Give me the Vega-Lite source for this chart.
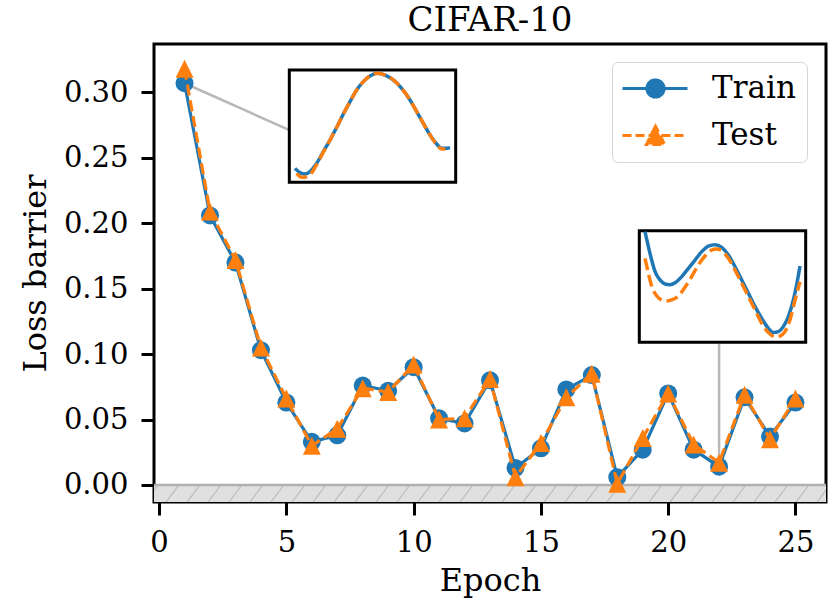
{
  "$schema": "https://vega.github.io/schema/vega-lite/v6.json",
  "width": 672,
  "height": 458,
  "autosize": {"type": "none"},
  "padding": {"left": 154, "top": 44, "right": 8, "bottom": 99},
  "background": "white",
  "title": {"text": "CIFAR-10", "font": "DejaVu Serif", "fontSize": 34, "fontWeight": "normal", "color": "black", "baseline": "alphabetic", "offset": 9, "dy": 30, "anchor": "middle"},
  "config": {
    "view": {"stroke": "black", "strokeWidth": 3},
    "axis": {"grid": false, "domain": false, "ticks": true, "tickColor": "black", "tickWidth": 3, "tickSize": 13, "labelFont": "DejaVu Serif", "labelFontSize": 29, "labelColor": "black", "labelPadding": 13, "titleFont": "DejaVu Serif", "titleFontSize": 32, "titleFontWeight": "normal", "titleColor": "black"}
  },
  "datasets": {
    "main": [
      {"epoch": 1, "series": "Train", "loss": 0.307}, {"epoch": 2, "series": "Train", "loss": 0.206}, {"epoch": 3, "series": "Train", "loss": 0.170}, {"epoch": 4, "series": "Train", "loss": 0.103}, {"epoch": 5, "series": "Train", "loss": 0.063},
      {"epoch": 6, "series": "Train", "loss": 0.033}, {"epoch": 7, "series": "Train", "loss": 0.038}, {"epoch": 8, "series": "Train", "loss": 0.076}, {"epoch": 9, "series": "Train", "loss": 0.072}, {"epoch": 10, "series": "Train", "loss": 0.090},
      {"epoch": 11, "series": "Train", "loss": 0.051}, {"epoch": 12, "series": "Train", "loss": 0.047}, {"epoch": 13, "series": "Train", "loss": 0.080}, {"epoch": 14, "series": "Train", "loss": 0.013}, {"epoch": 15, "series": "Train", "loss": 0.028},
      {"epoch": 16, "series": "Train", "loss": 0.073}, {"epoch": 17, "series": "Train", "loss": 0.084}, {"epoch": 18, "series": "Train", "loss": 0.006}, {"epoch": 19, "series": "Train", "loss": 0.027}, {"epoch": 20, "series": "Train", "loss": 0.070},
      {"epoch": 21, "series": "Train", "loss": 0.027}, {"epoch": 22, "series": "Train", "loss": 0.014}, {"epoch": 23, "series": "Train", "loss": 0.067}, {"epoch": 24, "series": "Train", "loss": 0.037}, {"epoch": 25, "series": "Train", "loss": 0.063},
      {"epoch": 1, "series": "Test", "loss": 0.318}, {"epoch": 2, "series": "Test", "loss": 0.209}, {"epoch": 3, "series": "Test", "loss": 0.172}, {"epoch": 4, "series": "Test", "loss": 0.105}, {"epoch": 5, "series": "Test", "loss": 0.066},
      {"epoch": 6, "series": "Test", "loss": 0.030}, {"epoch": 7, "series": "Test", "loss": 0.043}, {"epoch": 8, "series": "Test", "loss": 0.074}, {"epoch": 9, "series": "Test", "loss": 0.071}, {"epoch": 10, "series": "Test", "loss": 0.092},
      {"epoch": 11, "series": "Test", "loss": 0.050}, {"epoch": 12, "series": "Test", "loss": 0.051}, {"epoch": 13, "series": "Test", "loss": 0.081}, {"epoch": 14, "series": "Test", "loss": 0.006}, {"epoch": 15, "series": "Test", "loss": 0.032},
      {"epoch": 16, "series": "Test", "loss": 0.067}, {"epoch": 17, "series": "Test", "loss": 0.085}, {"epoch": 18, "series": "Test", "loss": 0.001}, {"epoch": 19, "series": "Test", "loss": 0.036}, {"epoch": 20, "series": "Test", "loss": 0.070},
      {"epoch": 21, "series": "Test", "loss": 0.031}, {"epoch": 22, "series": "Test", "loss": 0.017}, {"epoch": 23, "series": "Test", "loss": 0.069}, {"epoch": 24, "series": "Test", "loss": 0.035}, {"epoch": 25, "series": "Test", "loss": 0.066}
    ],
    "hatch": [
      {"x0": -0.554, "x1": -0.044}, {"x0": 0.271, "x1": 0.781}, {"x0": 1.096, "x1": 1.606}, {"x0": 1.921, "x1": 2.431}, {"x0": 2.746, "x1": 3.256},
      {"x0": 3.571, "x1": 4.081}, {"x0": 4.396, "x1": 4.906}, {"x0": 5.221, "x1": 5.731}, {"x0": 6.046, "x1": 6.556}, {"x0": 6.871, "x1": 7.381},
      {"x0": 7.696, "x1": 8.206}, {"x0": 8.521, "x1": 9.031}, {"x0": 9.346, "x1": 9.856}, {"x0": 10.171, "x1": 10.681}, {"x0": 10.996, "x1": 11.506},
      {"x0": 11.821, "x1": 12.331}, {"x0": 12.646, "x1": 13.156}, {"x0": 13.471, "x1": 13.981}, {"x0": 14.296, "x1": 14.806}, {"x0": 15.121, "x1": 15.631},
      {"x0": 15.946, "x1": 16.456}, {"x0": 16.771, "x1": 17.281}, {"x0": 17.596, "x1": 18.106}, {"x0": 18.421, "x1": 18.931}, {"x0": 19.246, "x1": 19.756},
      {"x0": 20.071, "x1": 20.581}, {"x0": 20.896, "x1": 21.406}, {"x0": 21.721, "x1": 22.231}, {"x0": 22.546, "x1": 23.056}, {"x0": 23.371, "x1": 23.881},
      {"x0": 24.196, "x1": 24.706}, {"x0": 25.021, "x1": 25.531}, {"x0": 25.846, "x1": 26.356}
    ],
    "ins1": [
      {"a": 0.000, "series": "Train", "v": 0.135}, {"a": 0.032, "series": "Train", "v": 0.098}, {"a": 0.065, "series": "Train", "v": 0.086}, {"a": 0.097, "series": "Train", "v": 0.107},
      {"a": 0.140, "series": "Train", "v": 0.179}, {"a": 0.183, "series": "Train", "v": 0.280}, {"a": 0.226, "series": "Train", "v": 0.380}, {"a": 0.269, "series": "Train", "v": 0.490},
      {"a": 0.312, "series": "Train", "v": 0.605}, {"a": 0.355, "series": "Train", "v": 0.712}, {"a": 0.398, "series": "Train", "v": 0.813}, {"a": 0.441, "series": "Train", "v": 0.885},
      {"a": 0.484, "series": "Train", "v": 0.934}, {"a": 0.533, "series": "Train", "v": 0.957}, {"a": 0.581, "series": "Train", "v": 0.942}, {"a": 0.634, "series": "Train", "v": 0.899},
      {"a": 0.688, "series": "Train", "v": 0.827}, {"a": 0.742, "series": "Train", "v": 0.726}, {"a": 0.785, "series": "Train", "v": 0.625}, {"a": 0.828, "series": "Train", "v": 0.524},
      {"a": 0.871, "series": "Train", "v": 0.424}, {"a": 0.914, "series": "Train", "v": 0.346}, {"a": 0.946, "series": "Train", "v": 0.308}, {"a": 0.978, "series": "Train", "v": 0.308},
      {"a": 1.000, "series": "Train", "v": 0.314},
      {"a": 0.011, "series": "Test", "v": 0.092}, {"a": 0.043, "series": "Test", "v": 0.058}, {"a": 0.075, "series": "Test", "v": 0.063}, {"a": 0.108, "series": "Test", "v": 0.098},
      {"a": 0.140, "series": "Test", "v": 0.170}, {"a": 0.183, "series": "Test", "v": 0.275}, {"a": 0.226, "series": "Test", "v": 0.380}, {"a": 0.269, "series": "Test", "v": 0.490},
      {"a": 0.312, "series": "Test", "v": 0.605}, {"a": 0.355, "series": "Test", "v": 0.712}, {"a": 0.398, "series": "Test", "v": 0.813}, {"a": 0.441, "series": "Test", "v": 0.885},
      {"a": 0.484, "series": "Test", "v": 0.934}, {"a": 0.533, "series": "Test", "v": 0.957}, {"a": 0.581, "series": "Test", "v": 0.942}, {"a": 0.634, "series": "Test", "v": 0.899},
      {"a": 0.688, "series": "Test", "v": 0.827}, {"a": 0.742, "series": "Test", "v": 0.726}, {"a": 0.785, "series": "Test", "v": 0.625}, {"a": 0.828, "series": "Test", "v": 0.524},
      {"a": 0.871, "series": "Test", "v": 0.424}, {"a": 0.914, "series": "Test", "v": 0.340}, {"a": 0.946, "series": "Test", "v": 0.302}, {"a": 0.970, "series": "Test", "v": 0.302}
    ],
    "ins2": [
      {"a": 0.000, "series": "Train", "v": 0.977}, {"a": 0.022, "series": "Train", "v": 0.846}, {"a": 0.043, "series": "Train", "v": 0.730}, {"a": 0.065, "series": "Train", "v": 0.629},
      {"a": 0.097, "series": "Train", "v": 0.557}, {"a": 0.129, "series": "Train", "v": 0.522}, {"a": 0.161, "series": "Train", "v": 0.516}, {"a": 0.194, "series": "Train", "v": 0.533},
      {"a": 0.237, "series": "Train", "v": 0.586}, {"a": 0.280, "series": "Train", "v": 0.658}, {"a": 0.323, "series": "Train", "v": 0.730}, {"a": 0.366, "series": "Train", "v": 0.803},
      {"a": 0.409, "series": "Train", "v": 0.852}, {"a": 0.452, "series": "Train", "v": 0.864}, {"a": 0.495, "series": "Train", "v": 0.841}, {"a": 0.538, "series": "Train", "v": 0.774},
      {"a": 0.581, "series": "Train", "v": 0.672}, {"a": 0.624, "series": "Train", "v": 0.557}, {"a": 0.667, "series": "Train", "v": 0.441}, {"a": 0.710, "series": "Train", "v": 0.325},
      {"a": 0.753, "series": "Train", "v": 0.223}, {"a": 0.796, "series": "Train", "v": 0.136}, {"a": 0.828, "series": "Train", "v": 0.099}, {"a": 0.860, "series": "Train", "v": 0.107},
      {"a": 0.892, "series": "Train", "v": 0.151}, {"a": 0.925, "series": "Train", "v": 0.238}, {"a": 0.957, "series": "Train", "v": 0.383}, {"a": 0.978, "series": "Train", "v": 0.513},
      {"a": 1.000, "series": "Train", "v": 0.678},
      {"a": 0.000, "series": "Test", "v": 0.745}, {"a": 0.022, "series": "Test", "v": 0.614}, {"a": 0.043, "series": "Test", "v": 0.504}, {"a": 0.075, "series": "Test", "v": 0.420},
      {"a": 0.108, "series": "Test", "v": 0.383}, {"a": 0.140, "series": "Test", "v": 0.374}, {"a": 0.172, "series": "Test", "v": 0.383}, {"a": 0.215, "series": "Test", "v": 0.417},
      {"a": 0.258, "series": "Test", "v": 0.493}, {"a": 0.301, "series": "Test", "v": 0.586}, {"a": 0.344, "series": "Test", "v": 0.687}, {"a": 0.387, "series": "Test", "v": 0.765},
      {"a": 0.430, "series": "Test", "v": 0.817}, {"a": 0.462, "series": "Test", "v": 0.826}, {"a": 0.495, "series": "Test", "v": 0.812}, {"a": 0.538, "series": "Test", "v": 0.745},
      {"a": 0.581, "series": "Test", "v": 0.643}, {"a": 0.624, "series": "Test", "v": 0.528}, {"a": 0.667, "series": "Test", "v": 0.412}, {"a": 0.710, "series": "Test", "v": 0.296},
      {"a": 0.753, "series": "Test", "v": 0.180}, {"a": 0.796, "series": "Test", "v": 0.099}, {"a": 0.839, "series": "Test", "v": 0.064}, {"a": 0.871, "series": "Test", "v": 0.070},
      {"a": 0.903, "series": "Test", "v": 0.107}, {"a": 0.935, "series": "Test", "v": 0.209}, {"a": 0.968, "series": "Test", "v": 0.383}, {"a": 1.000, "series": "Test", "v": 0.542}
    ]
  },
  "layer": [
    {
      "data": {"values": [{}]},
      "mark": {"type": "rect", "fill": "#e0e0e0"},
      "encoding": {
        "x": {"datum": -0.2, "type": "quantitative", "scale": {"domain": [-0.2, 26.2], "nice": false, "zero": false}, "axis": null},
        "x2": {"datum": 26.2},
        "y": {"datum": -0.013, "type": "quantitative", "scale": {"domain": [-0.013, 0.337], "nice": false, "zero": false}, "axis": null},
        "y2": {"datum": 0}
      }
    },
    {
      "data": {"name": "hatch"},
      "mark": {"type": "rule", "color": "#bcbcbc", "strokeWidth": 1.2, "clip": true},
      "encoding": {
        "x": {"field": "x0", "type": "quantitative", "scale": {"domain": [-0.2, 26.2], "nice": false, "zero": false}, "axis": null},
        "x2": {"field": "x1"},
        "y": {"datum": -0.013, "type": "quantitative", "scale": {"domain": [-0.013, 0.337], "nice": false, "zero": false}, "axis": null},
        "y2": {"datum": 0}
      }
    },
    {
      "data": {"values": [{}]},
      "mark": {"type": "rule", "color": "#b0b0b0", "strokeWidth": 2.5},
      "encoding": {
        "y": {"datum": 0, "type": "quantitative", "scale": {"domain": [-0.013, 0.337], "nice": false, "zero": false}, "axis": null}
      }
    },
    {
      "data": {"values": [{}]},
      "mark": {"type": "rule", "color": "#b8b8b8", "strokeWidth": 2.5},
      "encoding": {
        "x": {"datum": 1, "type": "quantitative", "scale": {"domain": [-0.2, 26.2], "nice": false, "zero": false}, "axis": null},
        "x2": {"datum": 5.1},
        "y": {"datum": 0.307, "type": "quantitative", "scale": {"domain": [-0.013, 0.337], "nice": false, "zero": false}, "axis": null},
        "y2": {"datum": 0.2713}
      }
    },
    {
      "data": {"values": [{}]},
      "mark": {"type": "rule", "color": "#b8b8b8", "strokeWidth": 2.5},
      "encoding": {
        "x": {"datum": 22, "type": "quantitative", "scale": {"domain": [-0.2, 26.2], "nice": false, "zero": false}, "axis": null},
        "y": {"datum": 0.015, "type": "quantitative", "scale": {"domain": [-0.013, 0.337], "nice": false, "zero": false}, "axis": null},
        "y2": {"datum": 0.1077}
      }
    },
    {
      "data": {"name": "main"},
      "transform": [{"filter": "datum.series === 'Train'"}],
      "mark": {"type": "line", "strokeWidth": 3.2},
      "encoding": {
        "x": {"field": "epoch", "type": "quantitative", "scale": {"domain": [-0.2, 26.2], "nice": false, "zero": false},
              "axis": {"orient": "bottom", "title": "Epoch", "values": [0, 5, 10, 15, 20, 25], "format": "d", "titleBaseline": "alphabetic", "titleY": 88}},
        "y": {"field": "loss", "type": "quantitative", "scale": {"domain": [-0.013, 0.337], "nice": false, "zero": false},
              "axis": {"orient": "left", "title": "Loss barrier", "values": [0, 0.05, 0.1, 0.15, 0.2, 0.25, 0.3], "format": ".2f", "titleX": -109, "titleY": 229, "titleBaseline": "alphabetic", "titleAngle": 270}},
        "color": {"field": "series", "type": "nominal", "scale": {"domain": ["Train", "Test"], "range": ["#1f77b4", "#ff7f0e"]},
          "legend": {
            "orient": "none", "legendX": 458, "legendY": 18, "title": null, "direction": "vertical",
            "symbolSize": 400, "symbolStrokeWidth": 3,
            "labelFont": "DejaVu Serif", "labelFontSize": 31, "labelColor": "black", "labelOffset": 58,
            "rowPadding": 15, "padding": 11,
            "fillColor": "rgba(255,255,255,0.8)", "strokeColor": "#d5d5d5", "cornerRadius": 6,
            "encode": {
              "symbols": {
                "update": {
                  "shape": {"signal": "datum.value === 'Train' ? 'M-1.6,0L4.9,0M0.85,0A0.85,0.85 0 1,0 2.55,0A0.85,0.85 0 1,0 0.85,0Z' : 'M-1.6,0L4.9,0M1.7,-0.9L0.8,0.9L2.6,0.9Z'"},
                  "fill": {"signal": "datum.value === 'Train' ? '#1f77b4' : '#ff7f0e'"},
                  "stroke": {"signal": "datum.value === 'Train' ? '#1f77b4' : '#ff7f0e'"},
                  "strokeDash": {"signal": "datum.value === 'Test' ? [9, 4] : [1, 0]"},
                  "strokeWidth": {"value": 3.2},
                  "opacity": {"value": 1},
                  "fillOpacity": {"value": 1}
                }
              }
            }
          }
        }
      }
    },
    {
      "data": {"name": "main"},
      "transform": [{"filter": "datum.series === 'Train'"}],
      "mark": {"type": "point", "filled": true, "shape": "circle", "size": 324, "opacity": 1, "strokeWidth": 0},
      "encoding": {
        "x": {"field": "epoch", "type": "quantitative", "scale": {"domain": [-0.2, 26.2], "nice": false, "zero": false}, "axis": null},
        "y": {"field": "loss", "type": "quantitative", "scale": {"domain": [-0.013, 0.337], "nice": false, "zero": false}, "axis": null},
        "color": {"field": "series", "type": "nominal", "scale": {"domain": ["Train", "Test"], "range": ["#1f77b4", "#ff7f0e"]}}
      }
    },
    {
      "data": {"name": "main"},
      "transform": [{"filter": "datum.series === 'Test'"}],
      "mark": {"type": "line", "strokeWidth": 3.2, "strokeDash": [11, 5]},
      "encoding": {
        "x": {"field": "epoch", "type": "quantitative", "scale": {"domain": [-0.2, 26.2], "nice": false, "zero": false}, "axis": null},
        "y": {"field": "loss", "type": "quantitative", "scale": {"domain": [-0.013, 0.337], "nice": false, "zero": false}, "axis": null},
        "color": {"field": "series", "type": "nominal", "scale": {"domain": ["Train", "Test"], "range": ["#1f77b4", "#ff7f0e"]}}
      }
    },
    {
      "data": {"name": "main"},
      "transform": [{"filter": "datum.series === 'Test'"}],
      "mark": {"type": "point", "filled": true, "shape": "M0,-1L-1,1L1,1Z", "size": 324, "opacity": 1, "strokeWidth": 0},
      "encoding": {
        "x": {"field": "epoch", "type": "quantitative", "scale": {"domain": [-0.2, 26.2], "nice": false, "zero": false}, "axis": null},
        "y": {"field": "loss", "type": "quantitative", "scale": {"domain": [-0.013, 0.337], "nice": false, "zero": false}, "axis": null},
        "color": {"field": "series", "type": "nominal", "scale": {"domain": ["Train", "Test"], "range": ["#1f77b4", "#ff7f0e"]}}
      }
    },
    {
      "data": {"values": [{}]},
      "mark": {"type": "rect", "fill": "white", "stroke": "black", "strokeWidth": 3},
      "encoding": {
        "x": {"datum": -0.0366, "type": "quantitative", "scale": {"domain": [-0.047, 1.047], "range": [133.7, 303.3], "nice": false, "zero": false}, "axis": null},
        "x2": {"datum": 1.0366},
        "y": {"datum": 0.0144, "type": "quantitative", "scale": {"domain": [0, 1], "range": [140, 24.3], "nice": false, "zero": false}, "axis": null},
        "y2": {"datum": 0.9856}
      }
    },
    {
      "data": {"name": "ins1"},
      "transform": [{"filter": "datum.series === 'Train'"}],
      "mark": {"type": "line", "color": "#1f77b4", "strokeWidth": 3.5, "interpolate": "monotone"},
      "encoding": {
        "x": {"field": "a", "type": "quantitative", "scale": {"domain": [-0.047, 1.047], "range": [133.7, 303.3], "nice": false, "zero": false}, "axis": null},
        "y": {"field": "v", "type": "quantitative", "scale": {"domain": [0, 1], "range": [140, 24.3], "nice": false, "zero": false}, "axis": null}
      }
    },
    {
      "data": {"name": "ins1"},
      "transform": [{"filter": "datum.series === 'Test'"}],
      "mark": {"type": "line", "color": "#ff7f0e", "strokeWidth": 3.5, "strokeDash": [12, 5], "interpolate": "monotone"},
      "encoding": {
        "x": {"field": "a", "type": "quantitative", "scale": {"domain": [-0.047, 1.047], "range": [133.7, 303.3], "nice": false, "zero": false}, "axis": null},
        "y": {"field": "v", "type": "quantitative", "scale": {"domain": [0, 1], "range": [140, 24.3], "nice": false, "zero": false}, "axis": null}
      }
    },
    {
      "data": {"values": [{}]},
      "mark": {"type": "rect", "fill": "white", "stroke": "black", "strokeWidth": 3},
      "encoding": {
        "x": {"datum": -0.0366, "type": "quantitative", "scale": {"domain": [-0.047, 1.047], "range": [483.7, 653.3], "nice": false, "zero": false}, "axis": null},
        "x2": {"datum": 1.0366},
        "y": {"datum": 0.0145, "type": "quantitative", "scale": {"domain": [0, 1], "range": [300, 185], "nice": false, "zero": false}, "axis": null},
        "y2": {"datum": 0.9855}
      }
    },
    {
      "data": {"name": "ins2"},
      "transform": [{"filter": "datum.series === 'Train'"}],
      "mark": {"type": "line", "color": "#1f77b4", "strokeWidth": 3.5, "interpolate": "monotone"},
      "encoding": {
        "x": {"field": "a", "type": "quantitative", "scale": {"domain": [-0.047, 1.047], "range": [483.7, 653.3], "nice": false, "zero": false}, "axis": null},
        "y": {"field": "v", "type": "quantitative", "scale": {"domain": [0, 1], "range": [300, 185], "nice": false, "zero": false}, "axis": null}
      }
    },
    {
      "data": {"name": "ins2"},
      "transform": [{"filter": "datum.series === 'Test'"}],
      "mark": {"type": "line", "color": "#ff7f0e", "strokeWidth": 3.5, "strokeDash": [12, 5], "interpolate": "monotone"},
      "encoding": {
        "x": {"field": "a", "type": "quantitative", "scale": {"domain": [-0.047, 1.047], "range": [483.7, 653.3], "nice": false, "zero": false}, "axis": null},
        "y": {"field": "v", "type": "quantitative", "scale": {"domain": [0, 1], "range": [300, 185], "nice": false, "zero": false}, "axis": null}
      }
    }
  ],
  "resolve": {"scale": {"x": "independent", "y": "independent"}}
}
